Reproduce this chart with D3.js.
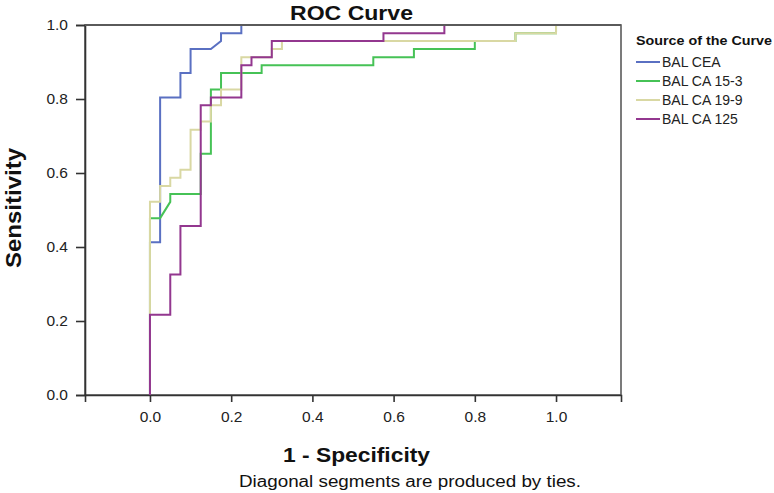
<!DOCTYPE html>
<html>
<head>
<meta charset="utf-8">
<script src="https://cdn.jsdelivr.net/npm/d3@7"></script>
<style>
  html, body { margin: 0; padding: 0; background: #fff; }
  svg { display: block; font-family: "Liberation Sans", Arial, sans-serif; }
</style>
</head>
<body>
<svg id="chart" width="774" height="493"></svg>
<script>
// ---- Data ----
const seriesNames = ["BAL CEA", "BAL CA 15-3", "BAL CA 19-9", "BAL CA 125"];
const seriesColors = ["#5a70c2", "#46c256", "#d9d8a3", "#93378f"];

const ceaFpr  = [0, 0, 0.025, 0.025, 0.075, 0.075, 0.1, 0.1, 0.15, 0.175, 0.175, 0.225, 0.225, 1];
const ceaTpr  = [0, 0.413, 0.413, 0.804, 0.804, 0.870, 0.870, 0.935, 0.935, 0.957, 0.978, 0.978, 1, 1];

const ca153Fpr = [0, 0, 0.025, 0.05, 0.05, 0.125, 0.125, 0.15, 0.15, 0.175, 0.175, 0.275, 0.275, 0.55, 0.55, 0.65, 0.65, 0.8, 0.8, 0.9, 0.9, 1, 1];
const ca153Tpr = [0, 0.478, 0.478, 0.522, 0.543, 0.543, 0.652, 0.652, 0.826, 0.826, 0.870, 0.870, 0.891, 0.891, 0.913, 0.913, 0.935, 0.935, 0.957, 0.957, 0.978, 0.978, 1];

const ca199Fpr = [0, 0, 0.025, 0.025, 0.05, 0.05, 0.075, 0.075, 0.1, 0.1, 0.125, 0.125, 0.15, 0.15, 0.175, 0.175, 0.225, 0.225, 0.3, 0.3, 0.325, 0.325, 0.9, 0.9, 1, 1];
const ca199Tpr = [0, 0.522, 0.522, 0.565, 0.565, 0.587, 0.587, 0.609, 0.609, 0.717, 0.717, 0.739, 0.739, 0.783, 0.783, 0.826, 0.826, 0.913, 0.913, 0.935, 0.935, 0.957, 0.957, 0.978, 0.978, 1];

const ca125Fpr = [0, 0, 0.05, 0.05, 0.075, 0.075, 0.125, 0.125, 0.15, 0.15, 0.225, 0.225, 0.25, 0.25, 0.3, 0.3, 0.575, 0.575, 0.725, 0.725, 1];
const ca125Tpr = [0, 0.217, 0.217, 0.326, 0.326, 0.457, 0.457, 0.783, 0.783, 0.804, 0.804, 0.891, 0.891, 0.913, 0.913, 0.957, 0.957, 0.978, 0.978, 1, 1];

const xTicks = [0.0, 0.2, 0.4, 0.6, 0.8, 1.0];
const yTicks = [0.0, 0.2, 0.4, 0.6, 0.8, 1.0];

const seriesFpr = [ceaFpr, ca153Fpr, ca199Fpr, ca125Fpr];
const seriesTpr = [ceaTpr, ca153Tpr, ca199Tpr, ca125Tpr];

// ---- Layout ----
const plot = { left: 85, right: 621, top: 25, bottom: 395 };
const svg = d3.select("#chart");

const x = d3.scaleLinear().domain([-0.16, 1.16]).range([plot.left, plot.right]);
const y = d3.scaleLinear().domain([0, 1]).range([plot.bottom, plot.top]);

// Plot frame
svg.append("rect")
  .attr("x", plot.left).attr("y", plot.top)
  .attr("width", plot.right - plot.left).attr("height", plot.bottom - plot.top)
  .attr("fill", "#fff").attr("stroke", "#5a5a5a").attr("stroke-width", 1.6);

// Axes
const fmt = d3.format(".1f");
const yAxis = svg.append("g")
  .attr("transform", `translate(${plot.left},0)`)
  .call(d3.axisLeft(y).tickValues(yTicks).tickFormat(fmt).tickSize(9).tickPadding(8));
const xAxis = svg.append("g")
  .attr("transform", `translate(0,${plot.bottom})`)
  .call(d3.axisBottom(x).tickValues(xTicks).tickFormat(fmt).tickSize(7).tickPadding(9));
[yAxis, xAxis].forEach(g => {
  g.select(".domain").attr("stroke", "#333").attr("stroke-width", 1.6);
  g.selectAll(".tick line").attr("stroke", "#333").attr("stroke-width", 1.6);
  g.selectAll(".tick text").attr("fill", "#222").style("font-size", "15.5px")
    .style("font-family", "'Liberation Sans', Arial, sans-serif");
});

// Curves
const line = d3.line().x(d => x(d[0])).y(d => y(d[1]));
seriesNames.forEach((name, i) => {
  const pts = seriesFpr[i].map((f, j) => [f, seriesTpr[i][j]]);
  svg.append("path")
    .datum(pts)
    .attr("d", line)
    .attr("fill", "none")
    .attr("stroke", seriesColors[i])
    .attr("stroke-width", 2)
    .attr("stroke-linejoin", "miter");
});

// Redraw top border over curves
svg.append("line")
  .attr("x1", plot.left).attr("x2", plot.right)
  .attr("y1", plot.top).attr("y2", plot.top)
  .attr("stroke", "#5a5a5a").attr("stroke-width", 1.8);

// Titles
svg.append("text")
  .attr("x", 351.5).attr("y", 20)
  .attr("text-anchor", "middle")
  .attr("textLength", 123).attr("lengthAdjust", "spacingAndGlyphs")
  .style("font-size", "20px").style("font-weight", "bold").attr("fill", "#111")
  .text("ROC Curve");

svg.append("text")
  .attr("x", 356.5).attr("y", 462)
  .attr("text-anchor", "middle")
  .attr("textLength", 147).attr("lengthAdjust", "spacingAndGlyphs")
  .style("font-size", "21px").style("font-weight", "bold").attr("fill", "#111")
  .text("1 - Specificity");

svg.append("text")
  .attr("transform", "translate(21,208) rotate(-90)")
  .attr("text-anchor", "middle")
  .attr("textLength", 120).attr("lengthAdjust", "spacingAndGlyphs")
  .style("font-size", "22px").style("font-weight", "bold").attr("fill", "#111")
  .text("Sensitivity");

svg.append("text")
  .attr("x", 410).attr("y", 487)
  .attr("text-anchor", "middle")
  .attr("textLength", 342).attr("lengthAdjust", "spacingAndGlyphs")
  .style("font-size", "16px").attr("fill", "#111")
  .text("Diagonal segments are produced by ties.");

// Legend
const leg = svg.append("g");
leg.append("text")
  .attr("x", 636).attr("y", 45)
  .attr("textLength", 136).attr("lengthAdjust", "spacingAndGlyphs")
  .style("font-size", "13px").style("font-weight", "bold").attr("fill", "#111")
  .text("Source of the Curve");
seriesNames.forEach((name, i) => {
  const yy = 62 + i * 19;
  leg.append("line")
    .attr("x1", 636).attr("x2", 660).attr("y1", yy).attr("y2", yy)
    .attr("stroke", seriesColors[i]).attr("stroke-width", 2);
  leg.append("text")
    .attr("x", 662).attr("y", yy + 5)
    .style("font-size", "14px").attr("fill", "#222")
    .text(name);
});
</script>
</body>
</html>
